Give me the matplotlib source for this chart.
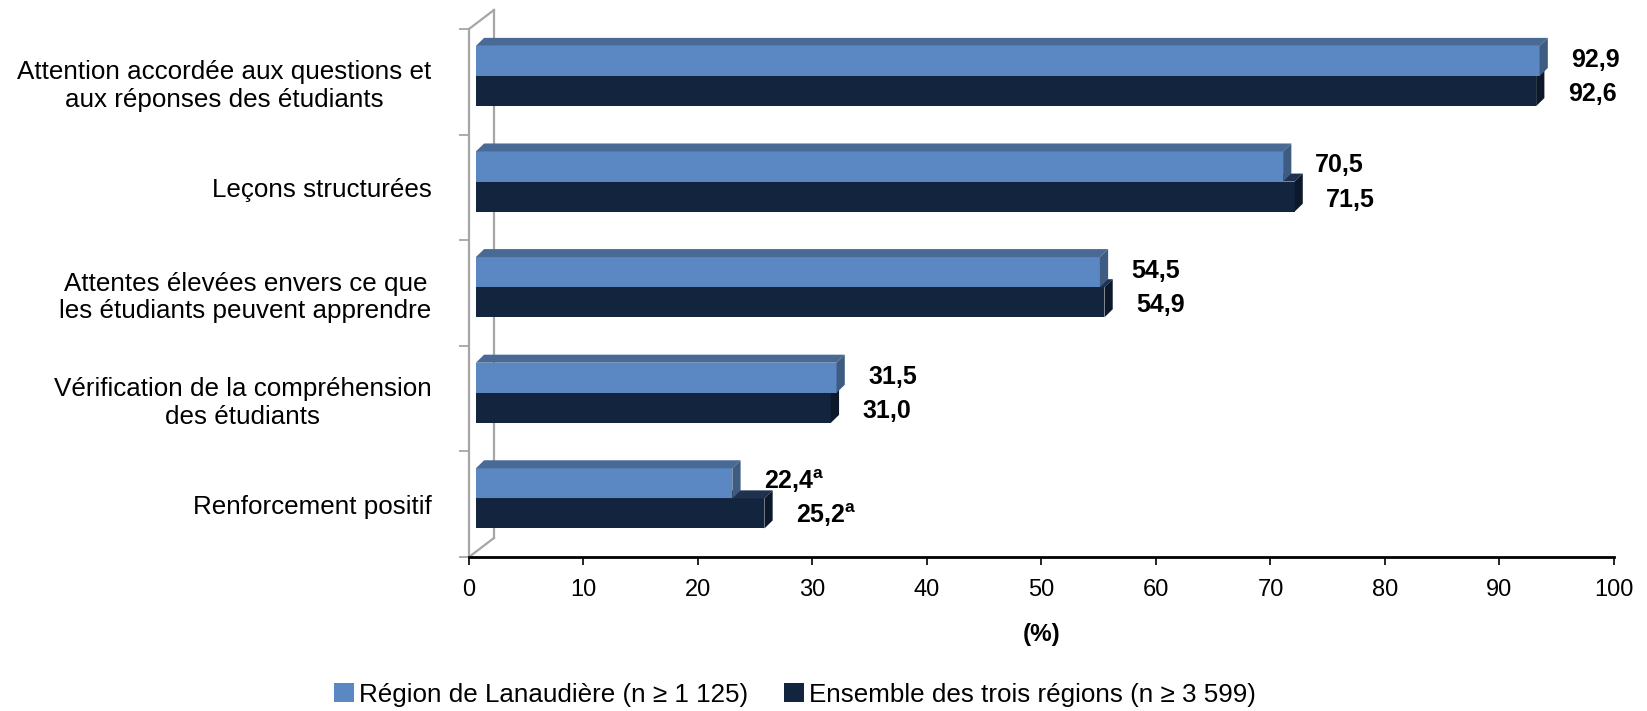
import matplotlib
matplotlib.use("Agg")
import matplotlib.pyplot as plt
from matplotlib.patches import Polygon, Patch

plt.rcParams['font.family'] = ['Liberation Sans', 'DejaVu Sans']

# données
categories = [
    "Attention accordée aux questions et\naux réponses des étudiants",
    "Leçons structurées",
    "Attentes élevées envers ce que\nles étudiants peuvent apprendre",
    "Vérification de la compréhension\ndes étudiants",
    "Renforcement positif",
]
lanaudiere = [92.9, 70.5, 54.5, 31.5, 22.4]
ensemble = [92.6, 71.5, 54.9, 31.0, 25.2]
notes_lan = ["", "", "", "", "a"]
notes_ens = ["", "", "", "", "a"]
ticks_x = [0, 10, 20, 30, 40, 50, 60, 70, 80, 90, 100]
legende = ["Région de Lanaudière (n ≥ 1 125)", "Ensemble des trois régions (n ≥ 3 599)"]

# couleurs des faces (avant, dessus, côté)
clair = ("#5b87c2", "#4a6a96", "#3e5c82")
fonce = ("#12243e", "#1e3250", "#0c192b")
gris = "#a6a6a6"

# géométrie pseudo-3D (unités de données)
X0 = 0.6      # décalage du début des barres
DX = 0.72     # profondeur en x
DY = 0.076    # profondeur en y
H = 0.285     # épaisseur d'une barre
Y_CLAIR = 0.16

fig = plt.figure(figsize=(16.47, 7.11), dpi=100)
ax = fig.add_axes([469 / 1647, 1 - 557 / 711, (1614 - 469) / 1647, (557 - 29) / 711])
ax.set_xlim(0, 100)
ax.set_ylim(5, 0)


def barre3d(y_haut, valeur, faces, z):
    front, top, side = faces
    x1 = X0 + valeur
    ax.barh(y_haut + H / 2, valeur, left=X0, height=H, color=front, zorder=z)
    ax.add_patch(Polygon([(X0, y_haut), (X0 + DX, y_haut - DY), (x1 + DX, y_haut - DY), (x1, y_haut)],
                         closed=True, facecolor=top, edgecolor='none', zorder=z))
    ax.add_patch(Polygon([(x1, y_haut), (x1 + DX, y_haut - DY), (x1 + DX, y_haut + H - DY), (x1, y_haut + H)],
                         closed=True, facecolor=side, edgecolor='none', zorder=z))


for i in range(len(categories)):
    y_c = i + Y_CLAIR
    y_f = y_c + H
    z = 3 + i
    barre3d(y_f, ensemble[i], fonce, z)
    barre3d(y_c, lanaudiere[i], clair, z + 0.5)

    txt = f"{lanaudiere[i]:.1f}".replace(".", ",")
    if notes_lan[i]:
        txt += r"$^{\mathregular{" + notes_lan[i] + "}}$"
    ax.text(X0 + lanaudiere[i] + 2.75, y_c + H / 2 + 0.055, txt, fontsize=18, fontweight='bold',
            ha='left', va='baseline', zorder=20, clip_on=False)
    txt = f"{ensemble[i]:.1f}".replace(".", ",")
    if notes_ens[i]:
        txt += r"$^{\mathregular{" + notes_ens[i] + "}}$"
    ax.text(X0 + ensemble[i] + 2.75, y_f + H / 2 + 0.095, txt, fontsize=18, fontweight='bold',
            ha='left', va='baseline', zorder=20, clip_on=False)

# parois (mur du fond et plancher)
WX, WY = 2.18, 0.18
ax.plot([WX, WX], [-WY, 5 - WY], color=gris, lw=1.6, zorder=1, clip_on=False)
ax.plot([0, WX], [0, -WY], color=gris, lw=1.6, zorder=1, clip_on=False)
ax.plot([0, WX], [5, 5 - WY], color=gris, lw=1.6, zorder=1, clip_on=False)

# axes
for s in ['top', 'right']:
    ax.spines[s].set_visible(False)
ax.spines['left'].set_color(gris)
ax.spines['left'].set_linewidth(1.6)
ax.spines['bottom'].set_color('black')
ax.spines['bottom'].set_linewidth(2)
ax.spines['bottom'].set_zorder(30)

ax.set_xticks(ticks_x)
ax.set_xticklabels([str(t) for t in ticks_x], fontsize=17)
ax.tick_params(axis='x', length=6, width=1.2, color='black', pad=10)

ax.set_yticks([i + 0.5 for i in range(len(categories))])
ax.set_yticklabels(categories, fontsize=18.7, linespacing=1.2)
for t in ax.get_yticklabels():
    t.set_multialignment('center')
ax.tick_params(axis='y', which='major', length=0, pad=27)
ax.set_yticks(range(6), minor=True)
ax.tick_params(axis='y', which='minor', length=7.5, width=1.3, color=gris)

ax.set_xlabel("(%)", fontsize=17.5, fontweight='bold', va='center')
ax.xaxis.set_label_coords(0.5, -(635 - 557) / 528)

handles = [Patch(facecolor=clair[0]), Patch(facecolor=fonce[0])]
fig.legend(handles, legende, loc='center', bbox_to_anchor=(795 / 1647, 1 - 695 / 711),
           ncol=2, frameon=False, fontsize=18.7, handlelength=0.75, handleheight=0.75,
           handletextpad=0.2, columnspacing=1.4, borderaxespad=0)

fig.savefig("out.png", dpi=100)
